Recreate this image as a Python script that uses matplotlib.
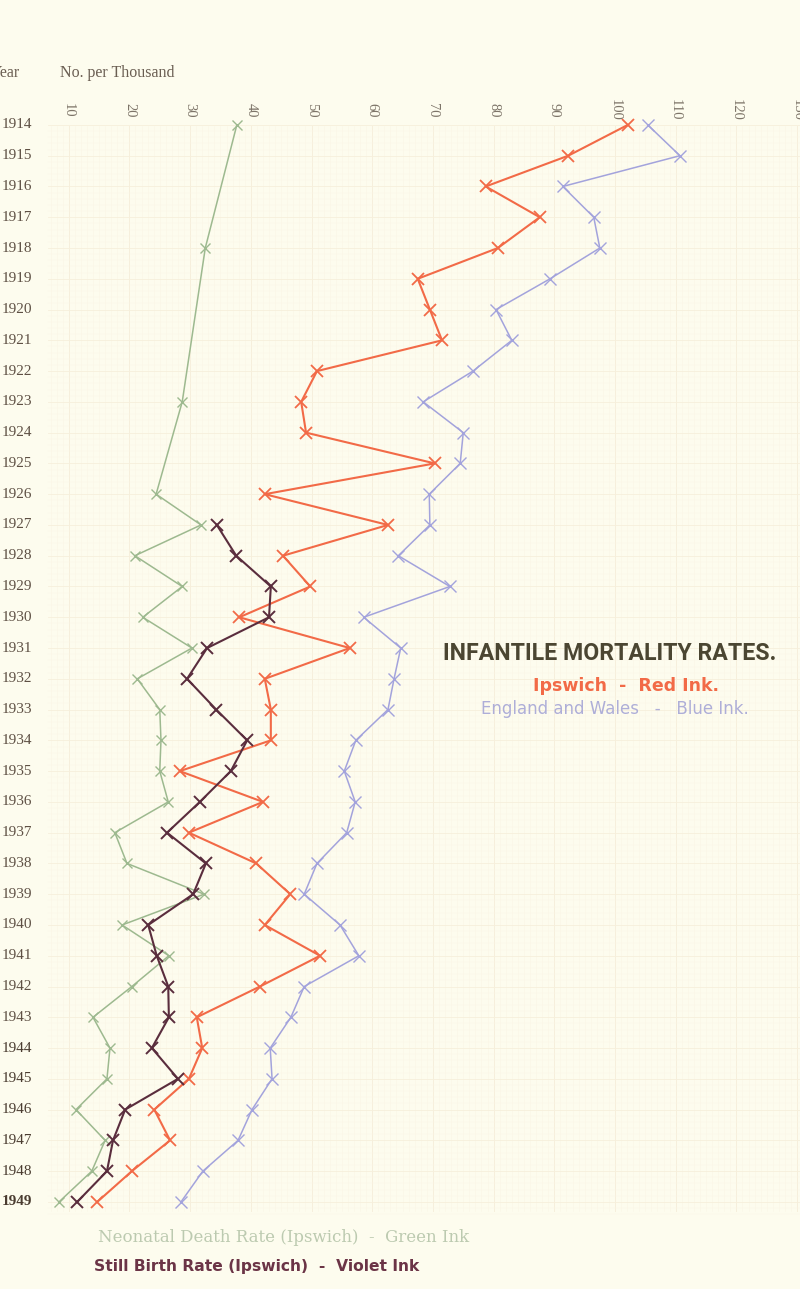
import matplotlib
matplotlib.use("Agg")
import matplotlib.pyplot as plt
from matplotlib.transforms import blended_transform_factory
from matplotlib import font_manager
import numpy as np

# ---------------- data ----------------
years_all = list(range(1914, 1950))

# Ipswich infantile mortality (red ink)
ipswich = [102.1, 92.3, 78.7, 87.6, 80.7, 67.5, 69.5, 71.5, 50.9, 48.3, 49.1, 70.3,
           42.3, 62.6, 45.3, 49.8, 38.1, 56.3, 42.3, 43.3, 43.3, 28.3, 42.0, 29.8,
           40.9, 46.5, 42.3, 51.4, 41.5, 31.1, 32.0, 29.8, 24.1, 26.7, 20.4, 14.7]

# England and Wales infantile mortality (blue ink)
eng_wales = [105.4, 110.7, 91.4, 96.5, 97.5, 89.3, 80.4, 83.0, 76.6, 68.4, 75.0, 74.5,
             69.4, 69.5, 64.3, 72.8, 58.6, 64.7, 63.6, 62.6, 57.3, 55.4, 57.2, 55.8,
             50.9, 48.8, 54.7, 57.8, 48.8, 46.6, 43.2, 43.5, 40.2, 37.9, 32.1, 28.5]

# Neonatal death rate, Ipswich (green ink)
neo_years = [1914, 1918, 1923] + list(range(1926, 1950))
neonatal = [37.7, 32.5, 28.7, 24.4, 31.8, 20.9, 28.7, 22.2, 30.3, 21.3, 25.0, 25.2,
            25.0, 26.4, 17.6, 19.6, 32.3, 18.8, 26.5, 20.4, 14.0, 16.8, 16.3, 11.2,
            16.0, 13.8, 8.4]

# Still birth rate, Ipswich (violet ink)
sb_years = list(range(1927, 1950))
stillbirth = [34.4, 37.6, 43.3, 43.0, 32.8, 29.5, 34.3, 39.4, 36.7, 31.6, 26.2, 32.6,
              30.5, 23.1, 24.5, 26.4, 26.5, 23.7, 28.0, 19.3, 17.3, 16.3, 11.4]

x_ticks = [10, 20, 30, 40, 50, 60, 70, 80, 90, 100, 110, 120, 130]
year_labels = [str(y) for y in years_all]

# ---------------- figure ----------------
W, H = 800, 1289
bg = "#fdfcee"
fig = plt.figure(figsize=(W / 100, H / 100), dpi=100, facecolor=bg)
ax = fig.add_axes([0, 0, 1, 1])
ax.set_facecolor(bg)
ax.axis("off")
ax.set_xlim(-1.32, 130.48)
ax.set_ylim(1951.83, 1909.94)

# very faint graph-paper grid
gx0, gx1 = 6.6, 130.5
gy0, gy1 = 1914.05, 1949.3
for v in np.arange(7, 131, 1.0):
    major = abs(v % 10) < 1e-6
    ax.plot([v, v], [gy0, gy1], color="#f6efdc" if major else "#faf6e6",
            lw=0.7 if major else 0.4, zorder=0)
for yy in np.arange(1914, 1949.5, 0.2):
    major = abs(yy - round(yy)) < 1e-6
    ax.plot([gx0, gx1], [yy, yy], color="#f6efdc" if major else "#fbf7e8",
            lw=0.6 if major else 0.35, zorder=0)

green = "#9db98f"
red = "#f26a47"
blue = "#a3a3dc"
violet = "#5a2d3d"

ax.plot(neonatal, neo_years, color=green, lw=1.1, marker="x", ms=7, mew=1.0, zorder=3)
ax.plot(stillbirth, sb_years, color=violet, lw=1.5, marker="x", ms=8, mew=1.4, zorder=4)
ax.plot(ipswich, years_all, color=red, lw=1.5, marker="x", ms=8, mew=1.3, zorder=3)
ax.plot(eng_wales, years_all, color=blue, lw=1.1, marker="x", ms=8, mew=1.0, zorder=3)

# year labels
tr = blended_transform_factory(ax.transAxes, ax.transData)
for y, lab in zip(years_all, year_labels):
    ax.text(2 / W, y, lab, transform=tr, ha="left", va="center",
            fontsize=11, family="Liberation Serif",
            color="#4a3c30" if y >= 1944 else "#5e5044",
            fontweight="bold" if y == 1949 else "normal")

# x tick labels (rotated, reading downward)
tr2 = blended_transform_factory(ax.transData, ax.transAxes)
for v in x_ticks:
    ax.text(v, 1 - 110 / H, str(v), transform=tr2, ha="center", va="center",
            rotation=-90, fontsize=10.5, family="Liberation Serif", color="#7d7468")

fig.text(-9 / W, 1 - 73 / H, "Year", ha="left", va="center", fontsize=11.5,
         family="Liberation Serif", color="#6a5e52")
fig.text(60 / W, 1 - 73 / H, "No. per Thousand", ha="left", va="center", fontsize=11.5,
         family="Liberation Serif", color="#6a5e52")

# title: condensed bold face if one is installed
names = {f.name for f in font_manager.fontManager.ttflist}
title_kw = dict(fontsize=18, fontweight="bold")
if "Liberation Sans Narrow" in names:
    title_kw["family"] = "Liberation Sans Narrow"
elif "DejaVu Sans Condensed" in names:
    title_kw["family"] = "DejaVu Sans Condensed"
else:
    title_kw["family"] = "Roboto"
    title_kw["fontstretch"] = "condensed"
title_txt = fig.text(443 / W, 1 - 653 / H, "INFANTILE MORTALITY RATES.", ha="left",
                     va="center", color="#4b4632", **title_kw)
# shrink to fit the reference width (~334 px)
fig.canvas.draw()
bb = title_txt.get_window_extent()
if bb.width > 336:
    title_txt.set_fontsize(title_txt.get_fontsize() * 334 / bb.width)

fig.text(626 / W, 1 - 686 / H, "Ipswich  -  Red Ink.", ha="center", va="center",
         fontsize=12.5, fontweight="bold", family="DejaVu Sans", color=red)
fig.text(615 / W, 1 - 709 / H, "England and Wales   -   Blue Ink.", ha="center",
         va="center", fontsize=12.0, family="DejaVu Sans", color="#aeaed8")

fig.text(98 / W, 1 - 1238 / H, "Neonatal Death Rate (Ipswich)  -  Green Ink", ha="left",
         va="center", fontsize=12.0, family="DejaVu Serif", color="#bccab0")
fig.text(94 / W, 1 - 1266 / H, "Still Birth Rate (Ipswich)  -  Violet Ink", ha="left",
         va="center", fontsize=11.2, fontweight="bold", family="DejaVu Sans",
         color="#6b3446")

fig.savefig("out.png", dpi=100, facecolor=bg)
